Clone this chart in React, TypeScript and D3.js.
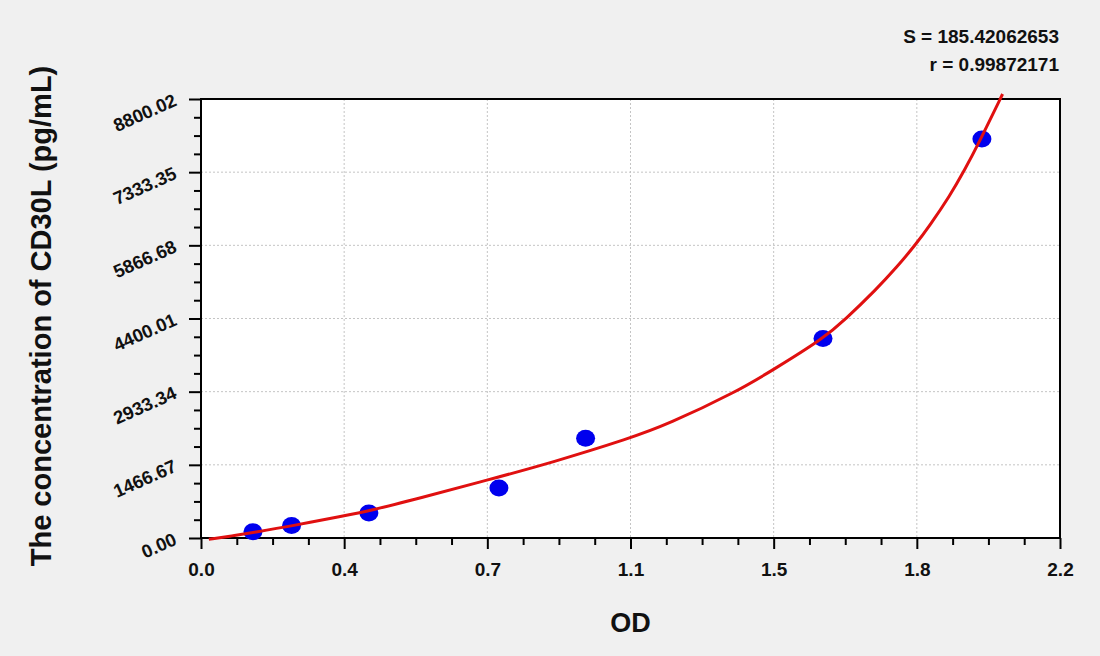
import React, { useEffect, useRef } from 'react';
import * as d3 from 'd3';

// standard points (OD, pg/mL)
const odValues = [0.133, 0.232, 0.43, 0.763, 0.985, 1.593, 2.0];
const concValues = [125, 250, 500, 1000, 2000, 4000, 8000];

// fitted curve
const fitOd = [0.02, 0.08, 0.134, 0.232, 0.364, 0.433, 0.56, 0.733, 0.9, 1.1, 1.193, 1.372, 1.466, 1.594, 1.65, 1.73, 1.781, 1.831, 1.866, 1.918, 1.956, 1.991, 2.053];
const fitConc = [-25, 42, 112, 241, 440, 548, 800, 1160, 1515, 2003, 2270, 2933, 3375, 4000, 4380, 4990, 5418, 5890, 6260, 6860, 7380, 7900, 8900];

const xTickValues = [0, 0.36667, 0.73333, 1.1, 1.46667, 1.83333, 2.2];
const xTickLabels = ['0.0', '0.4', '0.7', '1.1', '1.5', '1.8', '2.2'];
const yTickValues = [0, 1466.67, 2933.34, 4400.01, 5866.68, 7333.35, 8800.02];
const yTickLabels = ['0.00', '1466.67', '2933.34', '4400.01', '5866.68', '7333.35', '8800.02'];

const statLines = ['S = 185.42062653', 'r = 0.99872171'];

const FONT = '"Liberation Sans", Arial, sans-serif';

const App: React.FC = () => {
  const svgRef = useRef<SVGSVGElement>(null);
  const width = 1100;
  const height = 656;

  useEffect(() => {
    if (!svgRef.current) return;
    const svg = d3.select(svgRef.current);
    svg.selectAll('*').remove();

    const margin = { top: 99, right: 40, bottom: 118, left: 201 };
    const innerWidth = width - margin.left - margin.right;
    const innerHeight = height - margin.top - margin.bottom;

    svg.append('rect').attr('width', width).attr('height', height).attr('fill', '#f0f0f0');

    const g = svg.append('g').attr('transform', `translate(${margin.left},${margin.top})`);

    const xScale = d3.scaleLinear().domain([0, 2.2]).range([0, innerWidth]);
    const yScale = d3.scaleLinear().domain([0, 8800.02]).range([innerHeight, 0]);

    g.append('rect')
      .attr('width', innerWidth)
      .attr('height', innerHeight)
      .attr('fill', '#ffffff');

    // dotted grid
    g.append('g')
      .selectAll('line')
      .data(xTickValues.slice(1, -1))
      .enter()
      .append('line')
      .attr('x1', (d) => xScale(d))
      .attr('x2', (d) => xScale(d))
      .attr('y1', 0)
      .attr('y2', innerHeight)
      .attr('stroke', '#c4c4c4')
      .attr('stroke-dasharray', '2,2');

    g.append('g')
      .selectAll('line')
      .data(yTickValues.slice(1, -1))
      .enter()
      .append('line')
      .attr('x1', 0)
      .attr('x2', innerWidth)
      .attr('y1', (d) => yScale(d))
      .attr('y2', (d) => yScale(d))
      .attr('stroke', '#c4c4c4')
      .attr('stroke-dasharray', '2,2');

    // minor ticks
    const xMinor: number[] = [];
    const yMinor: number[] = [];
    for (let i = 0; i < xTickValues.length - 1; i++) {
      for (let k = 1; k < 4; k++) {
        xMinor.push(xTickValues[i] + ((xTickValues[i + 1] - xTickValues[i]) * k) / 4);
        yMinor.push(yTickValues[i] + ((yTickValues[i + 1] - yTickValues[i]) * k) / 4);
      }
    }

    const xAxis = g.append('g').attr('transform', `translate(0,${innerHeight})`);
    xAxis
      .call(d3.axisBottom(xScale).tickValues(xMinor).tickSize(7).tickFormat(() => ''))
      .call((a) => a.select('.domain').remove());
    const xMajor = g.append('g').attr('transform', `translate(0,${innerHeight})`);
    xMajor
      .call(
        d3
          .axisBottom(xScale)
          .tickValues(xTickValues)
          .tickSize(11)
          .tickPadding(14)
          .tickFormat((_, i) => xTickLabels[i])
      )
      .call((a) => a.select('.domain').remove());
    xMajor
      .selectAll('text')
      .attr('font-family', FONT)
      .attr('font-size', '19px')
      .attr('font-weight', 'bold')
      .attr('fill', '#111');

    const yAxis = g.append('g');
    yAxis
      .call(d3.axisLeft(yScale).tickValues(yMinor).tickSize(7).tickFormat(() => ''))
      .call((a) => a.select('.domain').remove());
    const yMajor = g.append('g');
    yMajor
      .call(d3.axisLeft(yScale).tickValues(yTickValues).tickSize(12).tickFormat(() => ''))
      .call((a) => a.select('.domain').remove());
    g.selectAll('.tick line').attr('stroke', '#000').attr('stroke-width', 2);

    g.append('g')
      .selectAll('text')
      .data(yTickValues)
      .enter()
      .append('text')
      .attr('transform', (d) => `translate(-23,${yScale(d) + 6}) rotate(-24)`)
      .attr('text-anchor', 'end')
      .attr('font-family', FONT)
      .attr('font-size', '18.5px')
      .attr('font-weight', 'bold')
      .attr('fill', '#111')
      .text((_, i) => yTickLabels[i]);

    // frame
    g.append('rect')
      .attr('width', innerWidth)
      .attr('height', innerHeight)
      .attr('fill', 'none')
      .attr('stroke', '#000')
      .attr('stroke-width', 2);

    // points
    const data: [number, number][] = odValues.map((x, i) => [x, concValues[i]]);
    g.selectAll('.point')
      .data(data)
      .enter()
      .append('ellipse')
      .attr('class', 'point')
      .attr('cx', (d) => xScale(d[0]))
      .attr('cy', (d) => yScale(d[1]))
      .attr('rx', 9.5)
      .attr('ry', 8.5)
      .attr('fill', '#0000ee');

    // fitted curve
    const fitData: [number, number][] = fitOd.map((x, i) => [x, fitConc[i]]);
    const line = d3
      .line<[number, number]>()
      .x((d) => xScale(d[0]))
      .y((d) => yScale(d[1]))
      .curve(d3.curveBasis);

    g.append('path')
      .datum(fitData)
      .attr('d', line)
      .attr('fill', 'none')
      .attr('stroke', '#e01010')
      .attr('stroke-width', 3);

    // axis titles
    g.append('text')
      .attr('x', innerWidth / 2)
      .attr('y', innerHeight + 94)
      .attr('text-anchor', 'middle')
      .attr('font-family', FONT)
      .attr('font-size', '27px')
      .attr('font-weight', 'bold')
      .attr('fill', '#111')
      .text('OD');

    svg
      .append('text')
      .attr('transform', `translate(51,316) rotate(-90)`)
      .attr('text-anchor', 'middle')
      .attr('font-family', FONT)
      .attr('font-size', '29px')
      .attr('font-weight', 'bold')
      .attr('fill', '#111')
      .text('The concentration of CD30L (pg/mL)');

    svg
      .append('g')
      .selectAll('text')
      .data(statLines)
      .enter()
      .append('text')
      .attr('x', 1059)
      .attr('y', (_, i) => 43 + i * 28)
      .attr('text-anchor', 'end')
      .attr('font-family', FONT)
      .attr('font-size', '19px')
      .attr('font-weight', 'bold')
      .attr('fill', '#111')
      .text((d) => d);
  }, []);

  return (
    <svg
      ref={svgRef}
      width={width}
      height={height}
      style={{ position: 'absolute', left: 0, top: 0, display: 'block' }}
    />
  );
};

export default App;
